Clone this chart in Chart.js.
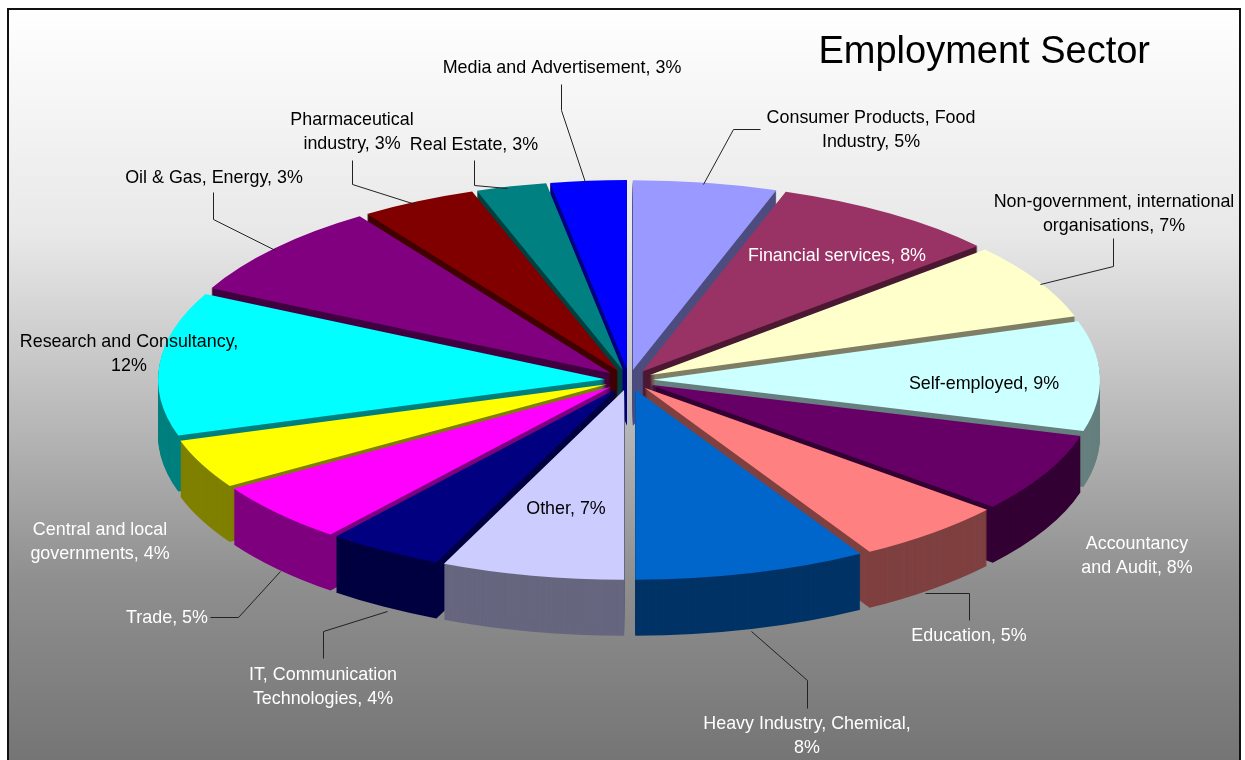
<!DOCTYPE html>
<html>
<head>
<meta charset="utf-8">
<title>Employment Sector</title>
<style>
  html, body { margin: 0; padding: 0; background: #fff; overflow: hidden; }
  canvas { display: block; }
</style>
<script src="https://cdn.jsdelivr.net/npm/chart.js@4"></script>
</head>
<body>
<canvas id="sectorChart" width="1245" height="760"></canvas>
<script>
// slice order is clockwise from 12 o'clock
const sectors = [
  'Consumer Products, Food Industry', 'Financial services', 'Non-government, international organisations',
  'Self-employed', 'Accountancy and Audit', 'Education', 'Heavy Industry, Chemical', 'Other',
  'IT, Communication Technologies', 'Trade', 'Central and local governments', 'Research and Consultancy',
  'Oil & Gas, Energy', 'Pharmaceutical industry', 'Real Estate', 'Media and Advertisement'
];
// drawn slice sizes (they don't all agree with the printed percentages)
const sliceShares = [5.2, 8.3, 6.5, 9.35, 6.75, 5.5, 8.4, 6.6, 4.2, 5.2, 4.2, 12.2, 8.1, 4.2, 2.55, 2.75];
const printedPercent = [5, 8, 7, 9, 8, 5, 8, 7, 4, 5, 4, 12, 3, 3, 3, 3];
const sliceColors = [
  '#9999ff', '#993366', '#ffffcc', '#ccffff', '#660066', '#ff8080', '#0066cc', '#ccccff',
  '#000080', '#ff00ff', '#ffff00', '#00ffff', '#800080', '#800000', '#008080', '#0000ff'
];

// ── geometry of the tilted pie
const PIE_X = 629, PIE_Y = 380, PIE_RADIUS = 447, TILT = 0.4246, DEPTH = 56, EXPLODE = 24;

// label text (split lines), one per sector
const labelLines = [
  ['Consumer Products, Food', 'Industry, 5%'], ['Financial services, 8%'],
  ['Non-government, international', 'organisations, 7%'], ['Self-employed, 9%'],
  ['Accountancy', 'and Audit, 8%'], ['Education, 5%'], ['Heavy Industry, Chemical,', '8%'], ['Other, 7%'],
  ['IT, Communication', 'Technologies, 4%'], ['Trade, 5%'], ['Central and local', 'governments, 4%'],
  ['Research and Consultancy,', '12%'], ['Oil & Gas, Energy, 3%'], ['Pharmaceutical', 'industry, 3%'],
  ['Real Estate, 3%'], ['Media and Advertisement, 3%']
];
const labelAnchors = [
  [871, 117], [837, 255], [1114, 201], [984, 383], [1137, 543], [969, 635], [807, 723], [566, 508],
  [323, 674], [167, 617], [100, 529], [129, 341], [214, 177], [352, 119], [474, 144], [562, 67]
];
const labelColors = [
  '#000', '#fff', '#000', '#000', '#fff', '#fff', '#fff', '#000',
  '#fff', '#fff', '#fff', '#000', '#000', '#000', '#000', '#000'
];
const leaderLines = [
  [[760, 129], [733, 129], [703, 184]],
  [[1113, 238], [1113, 266], [1040, 284]],
  [[969, 620], [969, 593], [925, 593]],
  [[807, 708], [807, 680], [751, 631]],
  [[323, 658], [323, 631], [387, 611]],
  [[210, 617], [238, 617], [280, 571]],
  [[213, 192], [213, 219], [275, 250]],
  [[352, 160], [352, 184], [415, 204]],
  [[474, 160], [474, 185], [507, 188]],
  [[561, 84], [561, 110], [585, 182]]
];

function halfShade(hex) {
  const n = parseInt(hex.slice(1), 16);
  const c = s => ((n >> s) & 255) >> 1;
  return `rgb(${c(16)},${c(8)},${c(0)})`;
}

/* ── doughnut controller that paints its arcs as a squashed, exploded 3D pie */
class TiltedPieController extends Chart.DoughnutController {
  draw() {
    const ctx = this.chart.ctx;
    const arcs = this.getMeta().data;
    const mid = a => (a.startAngle + a.endAngle) / 2;
    const backToFront = [...arcs].sort((a, b) => Math.sin(mid(a)) - Math.sin(mid(b)));

    const paint = (arc, drop, color) => {
      const keep = arc.options;
      arc.options = Object.assign({}, keep, { backgroundColor: color, borderWidth: 0 });
      ctx.save();
      ctx.translate(PIE_X, PIE_Y + drop);
      ctx.scale(1, TILT);
      ctx.translate(Math.cos(mid(arc)) * EXPLODE - arc.x, Math.sin(mid(arc)) * EXPLODE - arc.y);
      arc.draw(ctx);
      ctx.restore();
      arc.options = keep;
    };

    backToFront.forEach(arc => {
      const color = sliceColors[arcs.indexOf(arc)];
      const side = halfShade(color);
      for (let d = DEPTH; d > 0; d--) paint(arc, d, side);
      paint(arc, 0, color);
    });
  }
}
TiltedPieController.id = 'tiltedPie';
TiltedPieController.defaults = Chart.DoughnutController.defaults;
TiltedPieController.overrides = Chart.DoughnutController.overrides;
Chart.register(TiltedPieController);

const panelPlugin = {
  id: 'panel',
  beforeDraw(chart) {
    const ctx = chart.ctx;
    const grad = ctx.createLinearGradient(0, 9, 0, 760);
    grad.addColorStop(0, '#ffffff');
    grad.addColorStop(0.3, '#e8e8e8');
    grad.addColorStop(0.76, '#8f8f8f');
    grad.addColorStop(1, '#757575');
    ctx.save();
    ctx.fillStyle = grad;
    ctx.fillRect(8, 9, 1232, 760);
    ctx.strokeStyle = '#111';
    ctx.lineWidth = 2;
    ctx.strokeRect(8, 9, 1232, 780);
    ctx.restore();
  }
};

const labelPlugin = {
  id: 'sectorLabels',
  afterDatasetsDraw(chart) {
    const ctx = chart.ctx;
    ctx.save();
    ctx.strokeStyle = '#222';
    ctx.lineWidth = 1;
    leaderLines.forEach(pts => {
      ctx.beginPath();
      pts.forEach((p, i) => i ? ctx.lineTo(p[0] + 0.5, p[1] + 0.5) : ctx.moveTo(p[0] + 0.5, p[1] + 0.5));
      ctx.stroke();
    });
    ctx.font = '17.9px "Liberation Sans", Arial, sans-serif';
    ctx.textAlign = 'center';
    ctx.textBaseline = 'middle';
    labelLines.forEach((lines, i) => {
      ctx.fillStyle = labelColors[i];
      lines.forEach((line, j) => ctx.fillText(line, labelAnchors[i][0], labelAnchors[i][1] + 1 + j * 24.5));
    });
    ctx.restore();
  }
};

new Chart(document.getElementById('sectorChart'), {
  type: 'tiltedPie',
  data: {
    labels: sectors,
    datasets: [{ label: 'Employment', data: sliceShares, backgroundColor: sliceColors, borderWidth: 0, clip: false }]
  },
  options: {
    responsive: false,
    animation: false,
    events: [],
    radius: PIE_RADIUS,
    cutout: 0,
    layout: { padding: { right: 95 } },
    plugins: {
      legend: { display: false },
      tooltip: { enabled: false },
      title: {
        display: true,
        text: 'Employment Sector',
        align: 'end',
        color: '#000',
        font: { family: '"Liberation Sans", Arial, sans-serif', size: 38, weight: 'normal' },
        padding: { top: 30, bottom: 10 }
      }
    }
  },
  plugins: [panelPlugin, labelPlugin]
});
</script>
</body>
</html>
